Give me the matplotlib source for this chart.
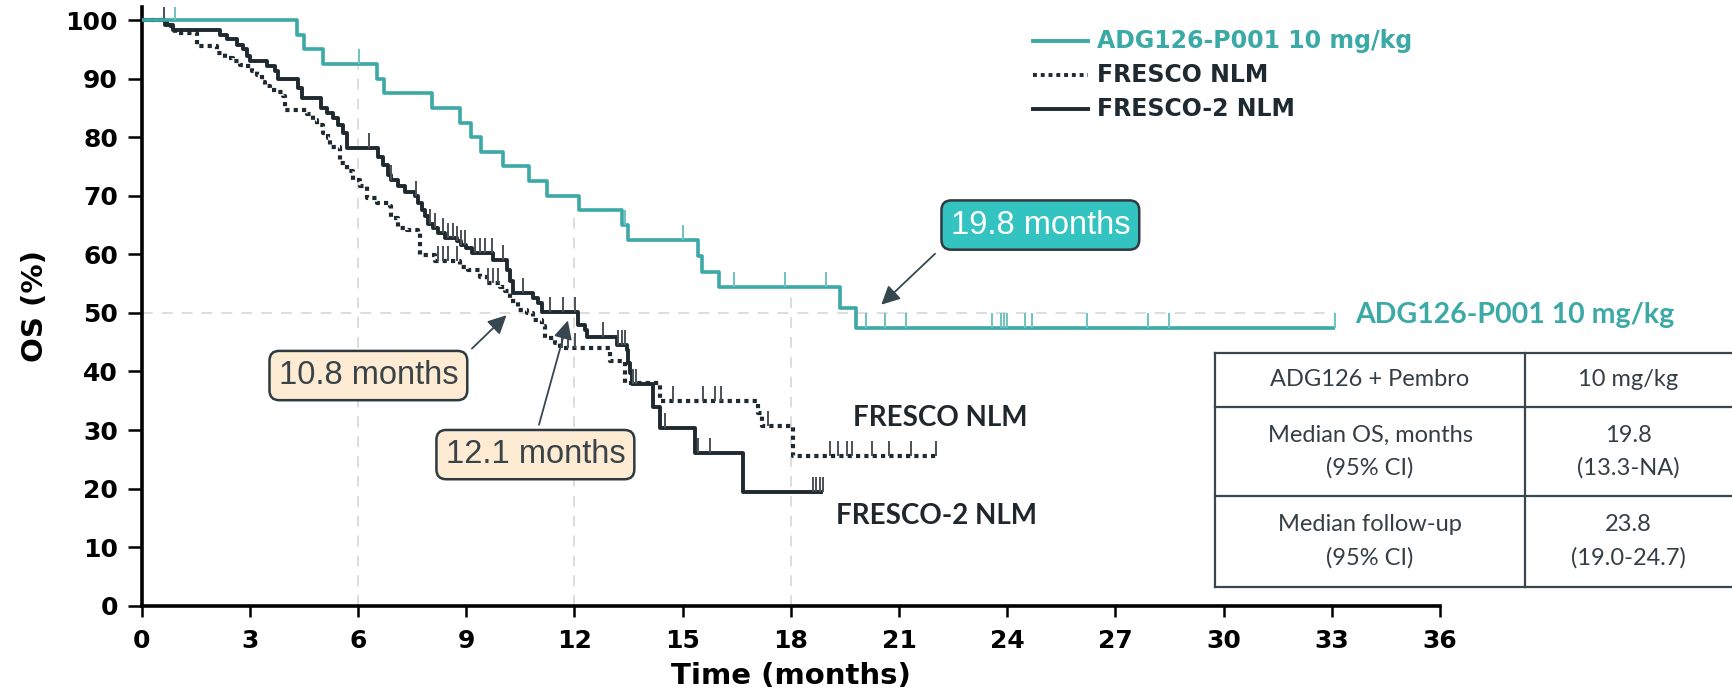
import matplotlib
matplotlib.use("Agg")
import matplotlib.pyplot as plt
import numpy as np
from matplotlib.lines import Line2D

# ---------------- data ----------------
adg_times = [0, 4.30, 4.50, 5.03, 6.53, 6.73, 8.06, 8.84, 9.14, 9.42, 10.01, 10.74,
             11.24, 12.12, 13.31, 13.50, 15.44, 15.53, 16.00, 19.36, 19.80]
adg_os = [100, 97.5, 95, 92.5, 90, 87.5, 85, 82.5, 80, 77.5, 75, 72.5,
          70, 67.5, 65, 62.5, 59.7, 57.0, 54.4, 50.8, 47.5]
adg_end = 33.1
adg_cens = [0.93, 6.03, 13.4, 15.0, 16.43, 17.84, 18.99, 20.1, 20.6, 21.19, 23.59,
            23.83, 23.9, 24.0, 24.5, 24.69, 26.2, 27.9, 28.5, 33.1]

f2_times = [0, 0.65, 0.88, 2.18, 2.36, 2.64, 2.82, 2.92, 3.01, 3.47, 3.70, 3.79, 4.35,
            4.44, 4.99, 5.13, 5.32, 5.45, 5.59, 5.69, 6.56, 6.70, 6.84, 6.93, 7.12,
            7.30, 7.58, 7.67, 7.77, 7.86, 7.95, 8.09, 8.23, 8.41, 8.74, 8.87, 9.01,
            9.15, 9.75, 10.12, 10.21, 10.30, 10.86, 11.00, 11.09, 12.11, 12.29, 12.34,
            13.17, 13.45, 13.49, 13.54, 13.59, 14.19, 14.37, 15.34, 16.68]
f2_os = [100, 99.2, 98.3, 97.5, 96.7, 95.8, 95.0, 93.8, 93.0, 92.2, 91.3, 90.0, 88.4,
         86.7, 85.0, 84.1, 83.3, 82.1, 80.7, 78.2, 76.7, 75.3, 73.6, 72.7, 71.6,
         70.7, 69.9, 68.8, 67.6, 66.5, 65.1, 64.5, 63.6, 62.8, 62.2, 61.6, 61.1,
         60.2, 59.1, 57.4, 55.4, 53.4, 52.5, 51.7, 50.1, 48.0, 47.1, 45.9,
         44.5, 43.7, 41.4, 39.7, 37.9, 34.0, 30.3, 26.0, 19.5]
f2_end = 18.9
f2_cens = [0.63, 6.31, 6.93, 7.60, 8.00, 8.13, 8.37, 8.50, 8.64, 8.74, 8.87, 8.97, 9.24,
           9.38, 9.52, 9.71, 10.03, 10.58, 11.32, 11.69, 12.01, 12.80, 13.21, 13.31,
           13.40, 13.63, 13.72, 14.51, 15.43, 15.76, 18.62, 18.71, 18.81, 18.9]

f1_times = [0, 0.70, 0.93, 1.53, 2.08, 2.31, 2.54, 2.73, 2.87, 3.05, 3.19, 3.33, 3.42,
            3.56, 3.75, 3.93, 3.98, 4.58, 4.76, 4.86, 5.04, 5.18, 5.22, 5.50, 5.69,
            5.87, 6.06, 6.24, 6.52, 6.89, 6.93, 7.12, 7.35, 7.67, 7.72, 8.13, 8.83,
            9.06, 9.38, 9.57, 9.94, 10.07, 10.21, 10.44, 10.68, 10.86, 11.09, 11.18,
            11.46, 11.60, 12.98, 13.40, 14.37, 17.10, 17.19, 18.07]
f1_os = [100, 99.0, 97.8, 95.5, 94.4, 93.5, 93.0, 92.4, 92.1, 91.3, 90.7, 89.5, 88.7,
         88.1, 87.8, 87.0, 84.7, 83.9, 83.0, 82.1, 80.7, 79.9, 78.4, 75.6, 74.2,
         72.7, 71.6, 69.6, 68.8, 68.2, 66.2, 64.5, 64.2, 63.6, 59.9, 58.8, 57.9,
         57.4, 56.2, 55.1, 54.5, 53.7, 52.0, 50.5, 50.0, 48.8, 47.7, 45.7,
         44.8, 44.0, 41.7, 38.0, 34.9, 32.9, 30.6, 25.5]
f1_end = 22.04
f1_cens = [8.23, 8.37, 8.50, 8.74, 9.61, 9.75, 9.89, 11.65, 11.83, 12.01, 14.74, 15.57,
           15.90, 16.08, 17.37, 19.08, 19.31, 19.55, 19.70, 20.26, 20.72, 21.33, 22.04]

landmark_t = [6, 12, 18]
landmark_os = [92.5, 67.5, 54.4]
median_level = 50

series_names = ["ADG126-P001 10 mg/kg", "FRESCO NLM", "FRESCO-2 NLM"]
medians = ["10.8 months", "12.1 months", "19.8 months"]
x_ticks = list(range(0, 37, 3))
y_ticks = list(range(0, 101, 10))

table_rows = [["ADG126 + Pembro", "10 mg/kg"],
              ["Median OS, months\n(95% CI)", "19.8\n(13.3-NA)"],
              ["Median follow-up\n(95% CI)", "23.8\n(19.0-24.7)"]]

# ---------------- style ----------------
TEAL = "#3BA9A6"
TEAL_TICK = "#6FC3C0"
DARK = "#1F2930"
DARK_TICK = "#4A5258"
W, H = 1732, 692

fig = plt.figure(figsize=(W / 100, H / 100), dpi=100)


def fx(px):
    return px / W


def fy(py):
    return 1 - py / H


ax = fig.add_axes([fx(141.5), fy(605.7), (1440 - 141.5) / W, (605.7 - 6.6) / H])
ax.set_xlim(0, 36)
ax.set_ylim(0, 102.3)


def km(times, vals, end, cens, color, tick_color, ls, lw, z):
    t = list(times) + [end]
    v = list(vals) + [vals[-1]]
    ax.step(t, v, where="post", color=color, lw=lw, linestyle=ls, zorder=z,
            solid_capstyle="butt", dash_capstyle="butt")
    tt = np.asarray(times)
    cv = [vals[np.searchsorted(tt, c, side="right") - 1] for c in cens]
    ax.plot(cens, cv, linestyle="none", marker=2, markersize=11,
            markeredgewidth=1.4, color=tick_color, zorder=z + 0.1)


# reference lines
for t, v in zip(landmark_t, landmark_os):
    ax.plot([t, t], [0, v], color="#DADADA", lw=1.3, ls=(0, (6, 5)), zorder=1)
ax.plot([0, adg_end], [median_level, median_level], color="#DADADA", lw=1.3,
        ls=(0, (6, 5)), zorder=1)

km(f1_times, f1_os, f1_end, f1_cens, DARK, DARK_TICK, (0, (1, 1.0)), 3.0, 3)
km(f2_times, f2_os, f2_end, f2_cens, DARK, DARK_TICK, "-", 2.8, 4)
km(adg_times, adg_os, adg_end, adg_cens, TEAL, TEAL_TICK, "-", 2.6, 5)

# axes styling
for s in ["top", "right"]:
    ax.spines[s].set_visible(False)
for s in ["left", "bottom"]:
    ax.spines[s].set_linewidth(2.6)
    ax.spines[s].set_color("black")
ax.set_xticks(x_ticks)
ax.set_yticks(y_ticks)
ax.tick_params(axis="y", length=10, width=1.8, pad=7, labelsize=18)
ax.tick_params(axis="x", length=8, width=1.8, pad=9, labelsize=18)
for lab in ax.get_xticklabels() + ax.get_yticklabels():
    lab.set_fontweight("bold")
ax.set_xlabel("Time (months)", fontsize=21, fontweight="bold", labelpad=6)
ax.set_ylabel("OS (%)", fontsize=21, fontweight="bold", labelpad=12)

# legend (manual)
leg_rows = [41, 75, 109]
leg_colors = [TEAL, DARK, DARK]
leg_styles = ["-", (0, (1, 1.0)), "-"]
for yy, name, c, ls in zip(leg_rows, series_names, leg_colors, leg_styles):
    fig.add_artist(Line2D([fx(1033), fx(1088)], [fy(yy), fy(yy)], color=c, lw=2.8,
                          linestyle=ls, transform=fig.transFigure))
    fig.text(fx(1097), fy(yy), name, color=c, fontsize=17, fontweight="bold",
             va="center", ha="left")

# curve end labels
ax.text(33.66, 49.6, series_names[0], color=TEAL, fontsize=20.5, fontweight="bold",
        family="Lato", va="center", ha="left", clip_on=False)
ax.text(19.72, 32.1, series_names[1], color="#20272C", fontsize=20, fontweight="bold",
        family="Lato", va="center", ha="left", clip_on=False)
ax.text(19.25, 15.3, series_names[2], color="#20272C", fontsize=20, fontweight="bold",
        family="Lato", va="center", ha="left", clip_on=False)

# median annotations
box_peach = dict(boxstyle="round,pad=0.28,rounding_size=0.3", fc="#FDEBD3",
                 ec="#2E3A40", lw=1.8)
box_teal = dict(boxstyle="round,pad=0.28,rounding_size=0.3", fc="#33C3C0",
                ec="#2E3A40", lw=1.8)
arrow = dict(arrowstyle="-|>", color="#37474F", lw=1.3, mutation_scale=28,
             shrinkA=0, shrinkB=0)
ax.annotate("", xy=(10.12, 49.6), xytext=(9.16, 43.9), arrowprops=arrow, zorder=6)
ax.annotate("", xy=(11.82, 48.7), xytext=(11.02, 30.9), arrowprops=arrow, zorder=6)
ax.annotate("", xy=(20.51, 51.4), xytext=(22.0, 60.1), arrowprops=arrow, zorder=6)
ax.text(6.29, 39.3, medians[0], fontsize=23.5, family="Liberation Sans", color="#3A4348",
        ha="center", va="center", bbox=box_peach, zorder=7)
ax.text(10.92, 25.8, medians[1], fontsize=23.5, family="Liberation Sans", color="#3A4348",
        ha="center", va="center", bbox=box_peach, zorder=7)
ax.text(24.92, 65.0, medians[2], fontsize=23.5, family="Liberation Sans", color="white",
        ha="center", va="center", bbox=box_teal, zorder=7)

# table
tx0, tx1, tx2 = 1215, 1525, 1732
ty = [352.7, 407.3, 495.7, 586.7]
tcol = "#3A464E"
for yy in ty:
    fig.add_artist(Line2D([fx(tx0), fx(tx2)], [fy(yy), fy(yy)], color=tcol, lw=1.6,
                          transform=fig.transFigure))
for xx in [tx0, tx1]:
    fig.add_artist(Line2D([fx(xx), fx(xx)], [fy(ty[0]), fy(ty[-1])], color=tcol, lw=1.6,
                          transform=fig.transFigure))
for i, row in enumerate(table_rows):
    yc = (ty[i] + ty[i + 1]) / 2
    fig.text(fx((tx0 + tx1) / 2), fy(yc), row[0], fontsize=17, family="Lato",
             color="#353E44", ha="center", va="center", linespacing=1.65)
    fig.text(fx((tx1 + 1732) / 2), fy(yc), row[1], fontsize=17, family="Lato",
             color="#353E44", ha="center", va="center", linespacing=1.65)

fig.savefig("out.png", dpi=100)
